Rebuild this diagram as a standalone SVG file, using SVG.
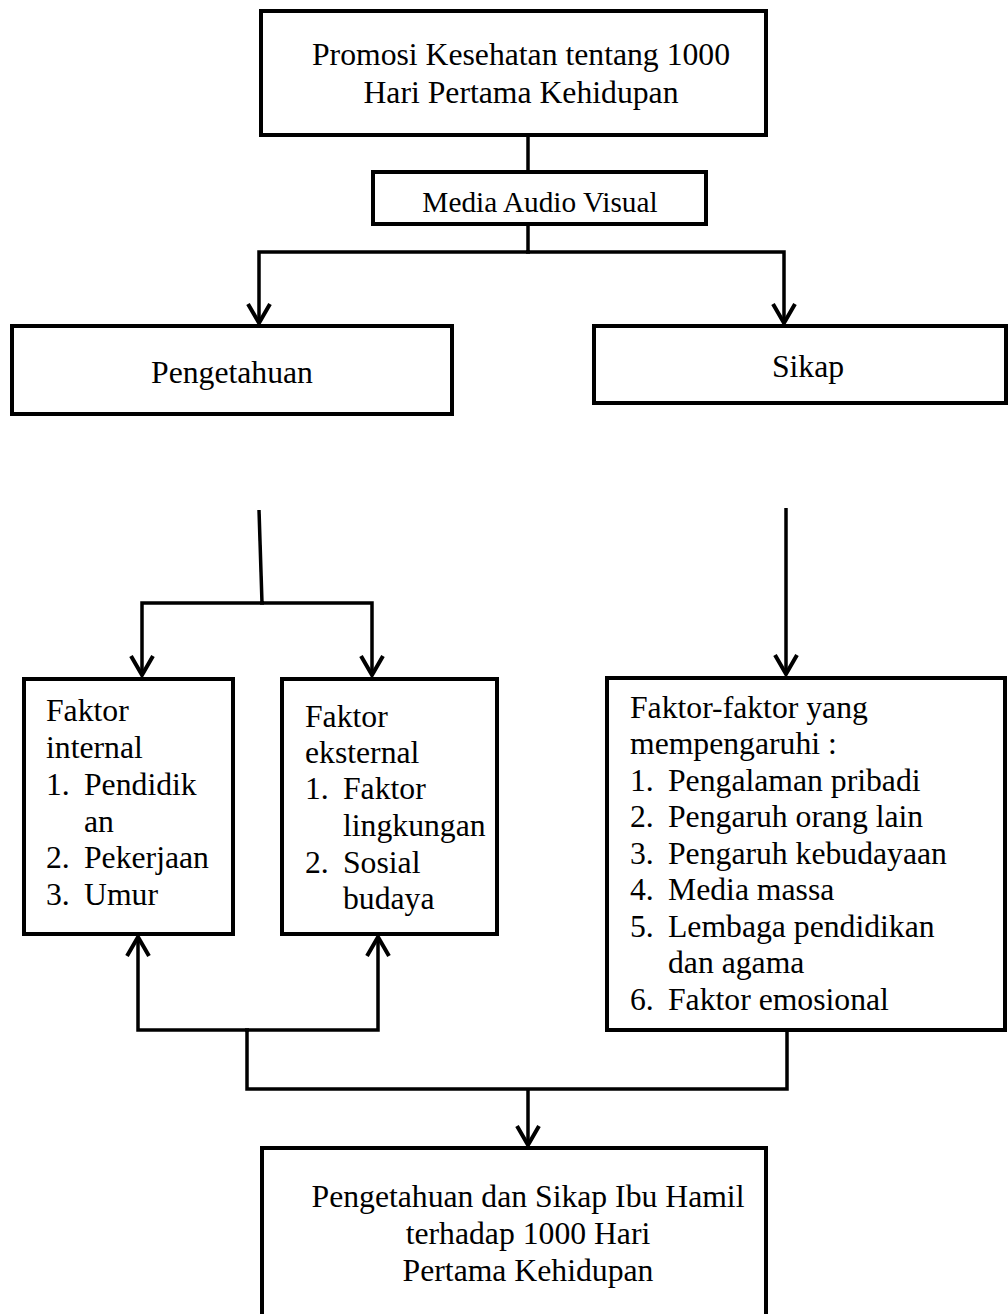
<svg xmlns="http://www.w3.org/2000/svg" width="1008" height="1314" viewBox="0 0 1008 1314">
<defs>
<style>
.box{fill:#fff;stroke:#000;stroke-width:4}
.t{font-family:"Liberation Serif","Times New Roman",serif;font-size:31.7px;fill:#000}
.c{text-anchor:middle}
.ln{fill:none;stroke:#000;stroke-width:3.5;stroke-linejoin:miter}
</style>
<marker id="ah" markerUnits="userSpaceOnUse" viewBox="-24 -14 28 28" markerWidth="28" markerHeight="28" refX="0" refY="0" orient="auto">
<path d="M-19,-11 L0,0 L-19,11" fill="none" stroke="#000" stroke-width="4"/>
</marker>
</defs>
<rect width="1008" height="1314" fill="#fff"/>
<g id="connectors">
<path class="ln" d="M528,135 V172"/>
<path class="ln" d="M528,224 V252"/>
<path class="ln" d="M530,252 H259 V323" marker-end="url(#ah)"/>
<path class="ln" d="M526,252 H784 V323" marker-end="url(#ah)"/>
<path class="ln" d="M259,510 L262,603"/>
<path class="ln" d="M264,603 H142 V675" marker-end="url(#ah)"/>
<path class="ln" d="M260,603 H372 V675" marker-end="url(#ah)"/>
<path class="ln" d="M786,508 V674" marker-end="url(#ah)"/>
<path class="ln" d="M787,1030 V1089 H247 V1030"/>
<path class="ln" d="M249,1030 H138 V937" marker-end="url(#ah)"/>
<path class="ln" d="M245,1030 H378 V937" marker-end="url(#ah)"/>
<path class="ln" d="M528,1089 V1145" marker-end="url(#ah)"/>
</g>
<g id="node-promosi">
<rect class="box" x="261" y="11" width="505" height="124"/>
<text class="t c" x="521" y="65">Promosi Kesehatan tentang 1000</text>
<text class="t c" x="521" y="103">Hari Pertama Kehidupan</text>
</g>
<g id="node-media">
<rect class="box" x="373" y="172" width="333" height="52"/>
<text class="t c" x="540" y="212" style="font-size:29.3px">Media Audio Visual</text>
</g>
<g id="node-pengetahuan">
<rect class="box" x="12" y="326" width="440" height="88"/>
<text class="t c" x="232" y="383">Pengetahuan</text>
</g>
<g id="node-sikap">
<rect class="box" x="594" y="326" width="412" height="77"/>
<text class="t c" x="808" y="377">Sikap</text>
</g>
<g id="node-internal">
<rect class="box" x="24" y="679" width="209" height="255"/>
<text class="t" x="46" y="721">Faktor</text>
<text class="t" x="46" y="758">internal</text>
<text class="t" x="46" y="795">1.</text><text class="t" x="84" y="795">Pendidik</text>
<text class="t" x="84" y="832">an</text>
<text class="t" x="46" y="868">2.</text><text class="t" x="84" y="868">Pekerjaan</text>
<text class="t" x="46" y="905">3.</text><text class="t" x="84" y="905">Umur</text>
</g>
<g id="node-eksternal">
<rect class="box" x="282" y="679" width="215" height="255"/>
<text class="t" x="305" y="727">Faktor</text>
<text class="t" x="305" y="763">eksternal</text>
<text class="t" x="305" y="799">1.</text><text class="t" x="343" y="799">Faktor</text>
<text class="t" x="343" y="836">lingkungan</text>
<text class="t" x="305" y="873">2.</text><text class="t" x="343" y="873">Sosial</text>
<text class="t" x="343" y="909">budaya</text>
</g>
<g id="node-faktor-sikap">
<rect class="box" x="607" y="678" width="398" height="352"/>
<text class="t" x="630" y="718">Faktor-faktor yang</text>
<text class="t" x="630" y="754">mempengaruhi :</text>
<text class="t" x="630" y="791">1.</text><text class="t" x="668" y="791">Pengalaman pribadi</text>
<text class="t" x="630" y="827">2.</text><text class="t" x="668" y="827">Pengaruh orang lain</text>
<text class="t" x="630" y="864">3.</text><text class="t" x="668" y="864">Pengaruh kebudayaan</text>
<text class="t" x="630" y="900">4.</text><text class="t" x="668" y="900">Media massa</text>
<text class="t" x="630" y="937">5.</text><text class="t" x="668" y="937">Lembaga pendidikan</text>
<text class="t" x="668" y="973">dan agama</text>
<text class="t" x="630" y="1010">6.</text><text class="t" x="668" y="1010">Faktor emosional</text>
</g>
<g id="node-hasil">
<rect class="box" x="262" y="1148" width="504" height="180"/>
<text class="t c" x="528" y="1207">Pengetahuan dan Sikap Ibu Hamil</text>
<text class="t c" x="528" y="1244">terhadap 1000 Hari</text>
<text class="t c" x="528" y="1281">Pertama Kehidupan</text>
</g>
</svg>
